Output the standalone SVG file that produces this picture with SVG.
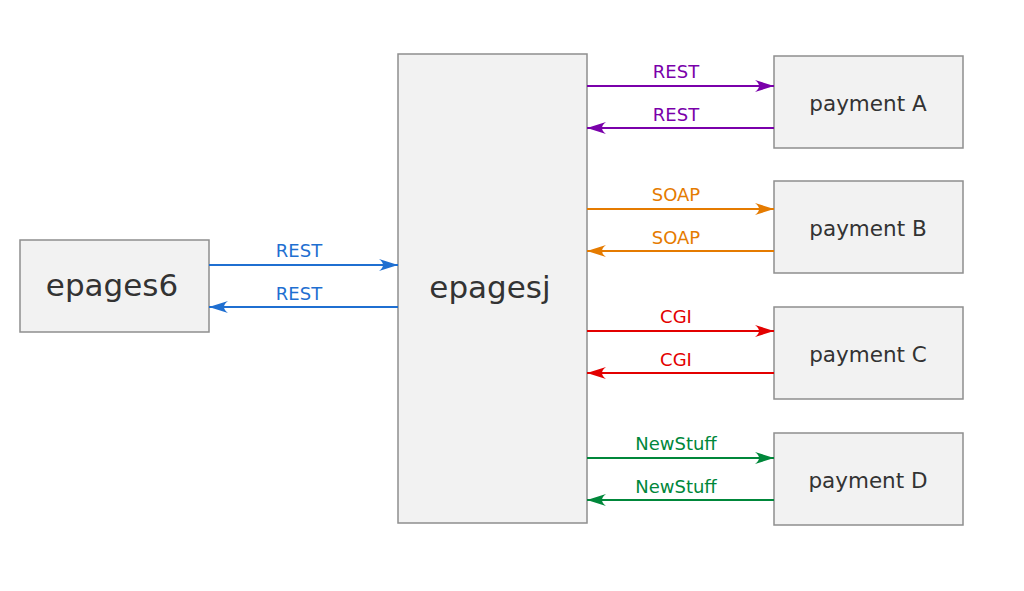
<svg xmlns="http://www.w3.org/2000/svg" width="1024" height="591" viewBox="0 0 1024 591">
<style>
.box{fill:#f2f2f2;stroke:#8e8e8e;stroke-width:1.5}
.nt{font-family:"DejaVu Sans",Verdana,sans-serif;fill:#333333;text-anchor:middle}
.lt{font-family:"DejaVu Sans",Verdana,sans-serif;font-size:18px;text-anchor:middle}
.ln{stroke-width:2;fill:none}
</style>
<defs>
<marker id="ab" markerUnits="userSpaceOnUse" markerWidth="20" markerHeight="14" refX="19" refY="7" orient="auto"><path d="M19,7 L0,1 Q8,7 0,13 Z" fill="#1f6fd1"/></marker>
<marker id="ap" markerUnits="userSpaceOnUse" markerWidth="20" markerHeight="14" refX="19" refY="7" orient="auto"><path d="M19,7 L0,1 Q8,7 0,13 Z" fill="#7a00aa"/></marker>
<marker id="ao" markerUnits="userSpaceOnUse" markerWidth="20" markerHeight="14" refX="19" refY="7" orient="auto"><path d="M19,7 L0,1 Q8,7 0,13 Z" fill="#e57b00"/></marker>
<marker id="ar" markerUnits="userSpaceOnUse" markerWidth="20" markerHeight="14" refX="19" refY="7" orient="auto"><path d="M19,7 L0,1 Q8,7 0,13 Z" fill="#e30000"/></marker>
<marker id="ag" markerUnits="userSpaceOnUse" markerWidth="20" markerHeight="14" refX="19" refY="7" orient="auto"><path d="M19,7 L0,1 Q8,7 0,13 Z" fill="#00873a"/></marker>
</defs>
<g id="epages6"><rect class="box" x="20" y="240" width="189" height="92"/><text class="nt" x="112" y="296" font-size="31">epages6</text></g>
<g id="epagesj"><rect class="box" x="398" y="54" width="189" height="469"/><text class="nt" x="490" y="298" font-size="31">epagesj</text></g>
<g id="paymentA"><rect class="box" x="774" y="56" width="189" height="92"/><text class="nt" x="868" y="111" font-size="21.5">payment A</text></g>
<g id="paymentB"><rect class="box" x="774" y="181" width="189" height="92"/><text class="nt" x="868" y="236" font-size="21.5">payment B</text></g>
<g id="paymentC"><rect class="box" x="774" y="307" width="189" height="92"/><text class="nt" x="868" y="362" font-size="21.5">payment C</text></g>
<g id="paymentD"><rect class="box" x="774" y="433" width="189" height="92"/><text class="nt" x="868" y="488" font-size="21.5">payment D</text></g>
<g id="connectors">
<line class="ln" stroke="#1f6fd1" x1="209" y1="265" x2="398" y2="265" marker-end="url(#ab)"/>
<line class="ln" stroke="#1f6fd1" x1="398" y1="307" x2="209" y2="307" marker-end="url(#ab)"/>
<text class="lt" fill="#1f6fd1" x="299" y="257">REST</text>
<text class="lt" fill="#1f6fd1" x="299" y="300">REST</text>
<line class="ln" stroke="#7a00aa" x1="587" y1="86" x2="774" y2="86" marker-end="url(#ap)"/>
<line class="ln" stroke="#7a00aa" x1="774" y1="128" x2="587" y2="128" marker-end="url(#ap)"/>
<text class="lt" fill="#7a00aa" x="676" y="78">REST</text>
<text class="lt" fill="#7a00aa" x="676" y="121">REST</text>
<line class="ln" stroke="#e57b00" x1="587" y1="209" x2="774" y2="209" marker-end="url(#ao)"/>
<line class="ln" stroke="#e57b00" x1="774" y1="251" x2="587" y2="251" marker-end="url(#ao)"/>
<text class="lt" fill="#e57b00" x="676" y="201">SOAP</text>
<text class="lt" fill="#e57b00" x="676" y="244">SOAP</text>
<line class="ln" stroke="#e30000" x1="587" y1="331" x2="774" y2="331" marker-end="url(#ar)"/>
<line class="ln" stroke="#e30000" x1="774" y1="373" x2="587" y2="373" marker-end="url(#ar)"/>
<text class="lt" fill="#e30000" x="676" y="323">CGI</text>
<text class="lt" fill="#e30000" x="676" y="366">CGI</text>
<line class="ln" stroke="#00873a" x1="587" y1="458" x2="774" y2="458" marker-end="url(#ag)"/>
<line class="ln" stroke="#00873a" x1="774" y1="500" x2="587" y2="500" marker-end="url(#ag)"/>
<text class="lt" fill="#00873a" x="676" y="450">NewStuff</text>
<text class="lt" fill="#00873a" x="676" y="493">NewStuff</text>
</g>
</svg>
